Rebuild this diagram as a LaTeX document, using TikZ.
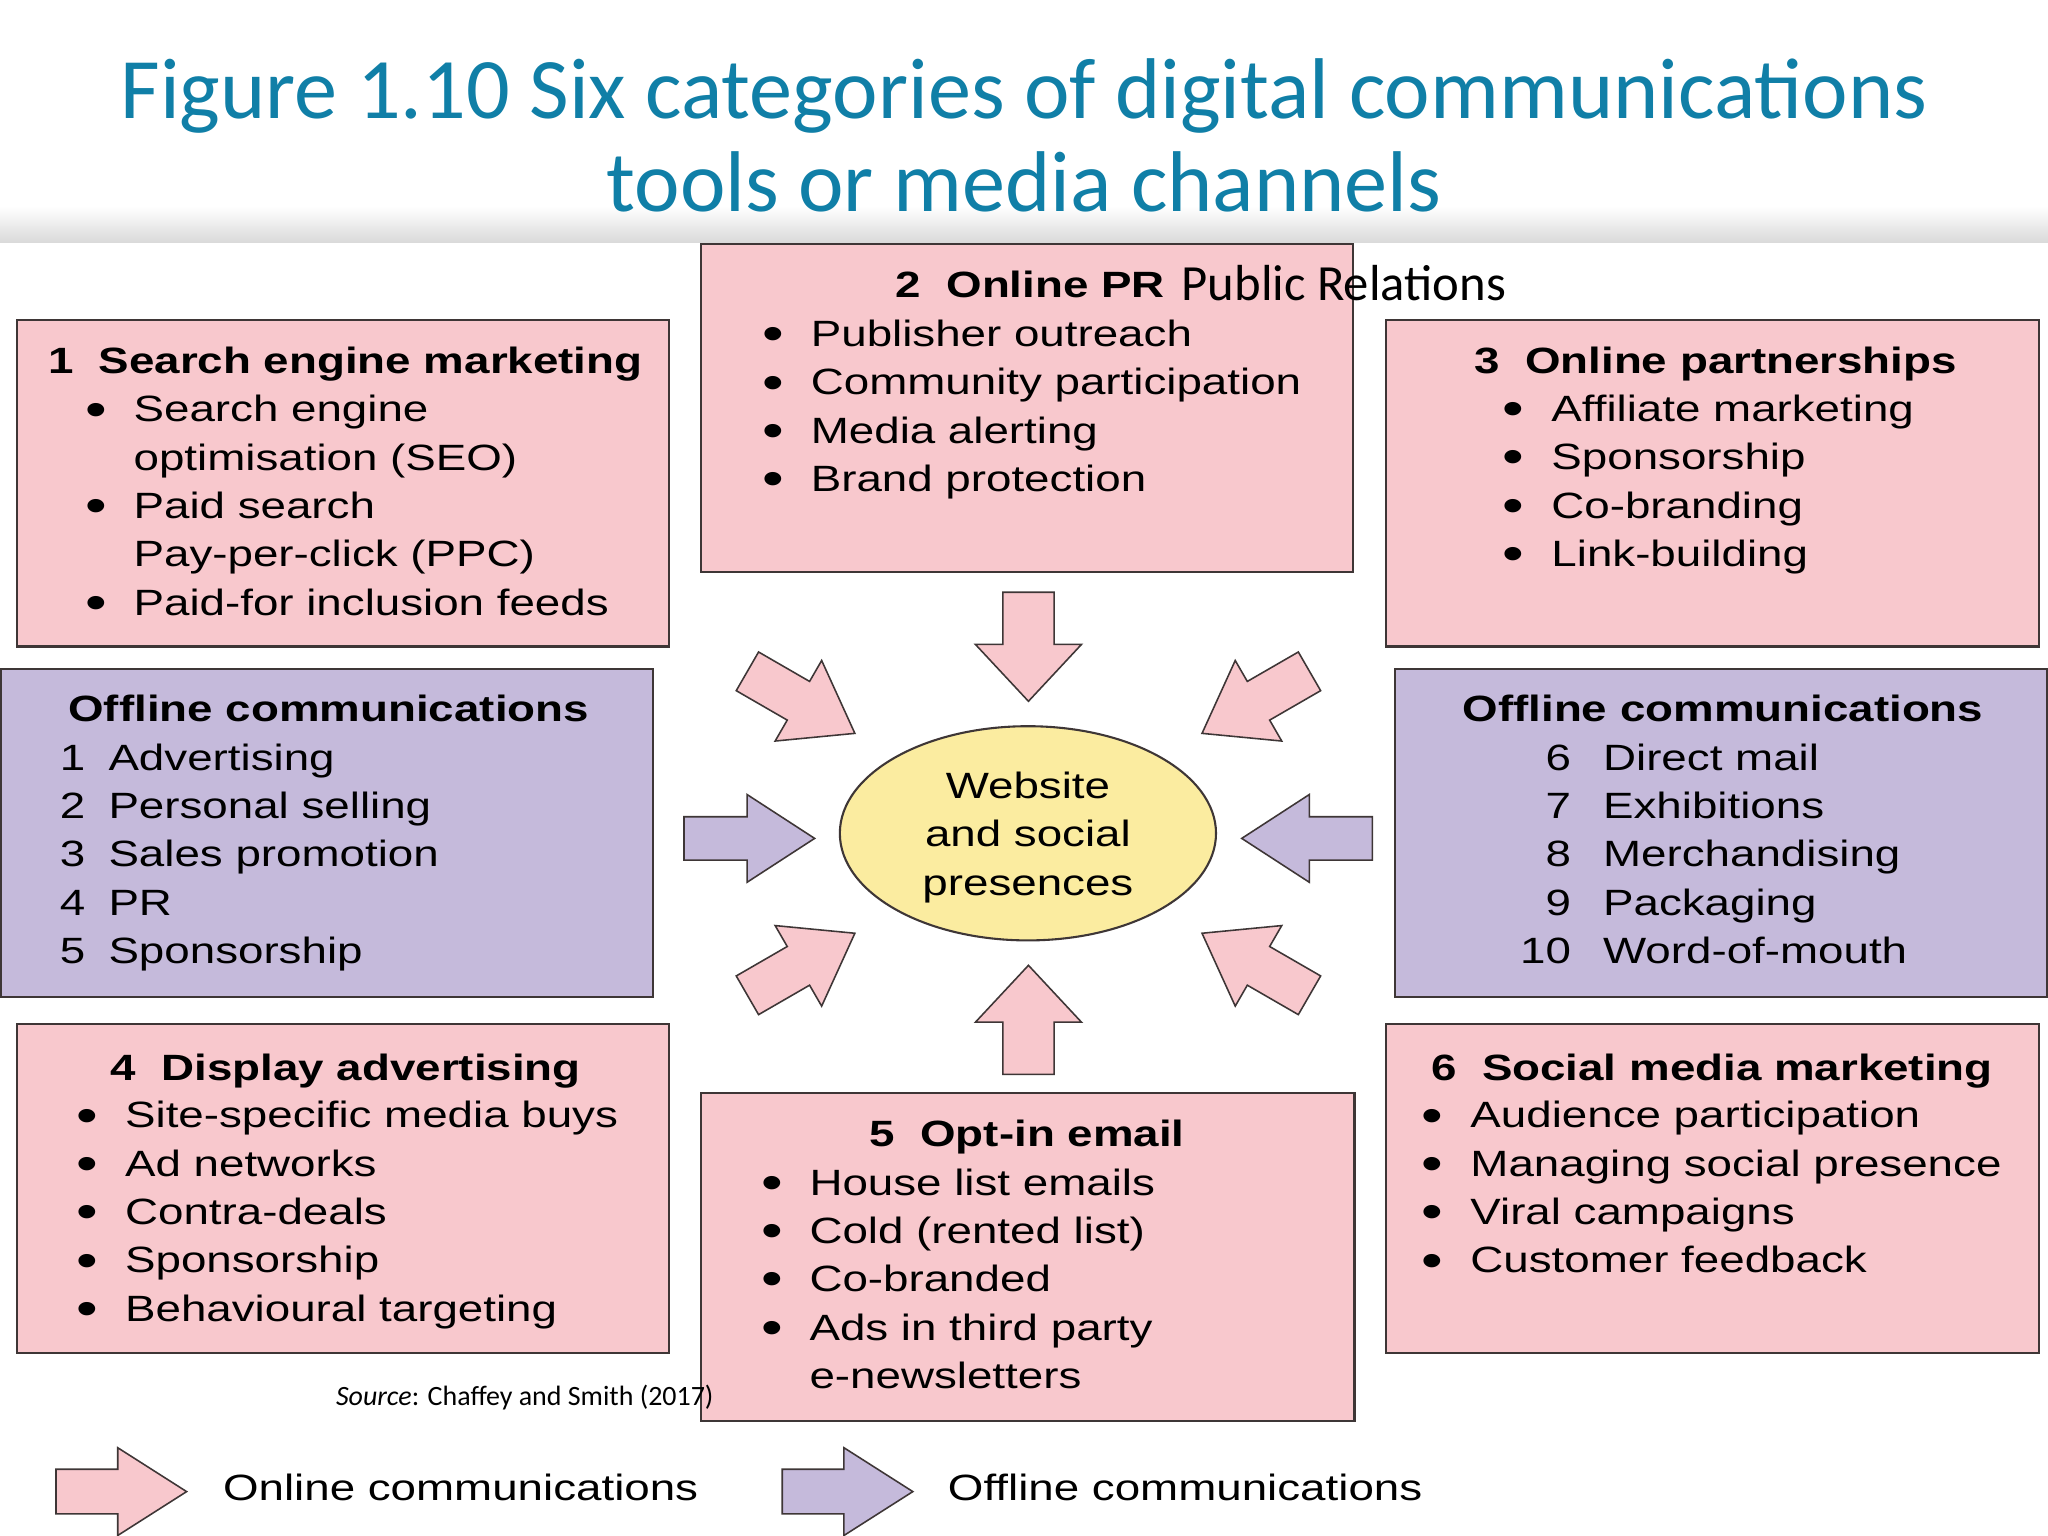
\documentclass[tikz,border=0pt]{standalone}
\usepackage{fontspec}
\setmainfont{Carlito}
\newfontfamily\diagfont[FakeStretch=1.25]{Liberation Sans}
\usetikzlibrary{shapes.geometric,shapes.arrows}

\definecolor{titleblue}{RGB}{16,127,167}
\definecolor{boxpink}{RGB}{248,200,205}
\definecolor{boxlilac}{RGB}{197,186,219}
\definecolor{hubyellow}{RGB}{251,236,160}
\definecolor{edge}{RGB}{62,54,54}

\newcommand{\bul}{\makebox[17.75pt][l]{\hspace*{-0.8pt}\raisebox{-1.6pt}{\scalebox{1.35}{\textbullet}}}}
\newcommand{\nob}{\hspace*{17.75pt}}
\newcommand{\nsp}{\hspace*{9.7pt}}
\newcommand{\lnum}[1]{\makebox[18.65pt][l]{#1}}
\newcommand{\rnum}[1]{\makebox[19.5pt][r]{#1}\hspace*{12.3pt}}

\tikzset{every picture/.style={line width=0.8pt}}
\tikzset{
  onbox/.style={draw=edge, fill=boxpink},
  offbox/.style={draw=edge, fill=boxlilac},
  txt/.style={anchor=base west, inner sep=0pt, font=\diagfont\fontsize{14}{18.5}\selectfont},
  hdr/.style={txt, font=\diagfont\bfseries\fontsize{14}{18.5}\selectfont},
  ttl/.style={anchor=base, inner sep=0pt, text=titleblue, font=\fontsize{33}{36}\selectfont},
  hub/.style={ellipse, draw=edge, fill=hubyellow, minimum width=144pt, minimum height=82pt,
    inner sep=0pt},
  hubtxt/.style={inner sep=0pt, align=center, font=\diagfont\fontsize{14}{18.5}\selectfont},
  blk/.style={single arrow, draw=edge, line width=0.6pt, anchor=tip, inner xsep=0pt},
  vert/.style={blk, fill=boxpink, inner ysep=9.5pt, single arrow head extend=10.5pt,
    single arrow tip angle=86, minimum height=41.75pt},
  horiz/.style={blk, fill=boxlilac, inner ysep=8pt, single arrow head extend=8.5pt,
    single arrow tip angle=66, minimum height=50pt},
  diag/.style={blk, fill=boxpink, inner ysep=8.25pt, single arrow head extend=9.25pt,
    single arrow tip angle=71, minimum height=47.5pt},
  legarrow/.style={blk, inner ysep=8.25pt, single arrow head extend=8.25pt,
    single arrow tip angle=65, minimum height=50pt}
}

\begin{document}
\begin{tikzpicture}[x=0.5pt,y=0.5pt,yscale=-1]
\useasboundingbox (0,0) rectangle (1568,1176);
\fill[white] (0,0) rectangle (1568,1176);

% title and shadow band
\shade[top color=white, bottom color=black!15, draw=none] (0,158) rectangle (1568,186);
\node[ttl] (title-a) at (784,90.6) {Figure 1.10 Six categories of digital communications};
\node[ttl] (title-b) at (784,162) {tools or media channels};

% boxes
\draw[onbox] (13,245) rectangle (512,495);
\draw[onbox] (537,187) rectangle (1036,438);
\draw[onbox] (1061,245) rectangle (1561,495);
\draw[offbox] (1,512) rectangle (500,763);
\draw[offbox] (1068,512) rectangle (1567,763);
\draw[onbox] (13,784) rectangle (512,1036);
\draw[onbox] (537,837) rectangle (1037,1088);
\draw[onbox] (1061,784) rectangle (1561,1036);

% 1 search engine marketing
\node[hdr] (sem) at (36,286) {1\nsp Search engine marketing};
\foreach \t [count=\i from 0] in {\bul Search engine, \nob optimisation (SEO), \bul Paid search,
    \nob Pay-per-click (PPC), \bul Paid-for inclusion feeds}
  \node[txt] (sem-\i) at (66,{323+37*\i}) {\t};

% 2 online PR
\node[hdr] (opr) at (685,228) {2\nsp Online PR};
\foreach \t [count=\i from 0] in {Publisher outreach, Community participation, Media alerting, Brand protection}
  \node[txt] (opr-\i) at (584.5,{265.4+37*\i}) {\bul\t};

% 3 online partnerships
\node[hdr] (opt) at (1128,286) {3\nsp Online partnerships};
\foreach \t [count=\i from 0] in {Affiliate marketing, Sponsorship, Co-branding, Link-building}
  \node[txt] (opt-\i) at (1151.5,{322.6+37*\i}) {\bul\t};

% offline communications, left
\node[hdr] (offl) at (51.5,552.6) {Offline communications};
\foreach \n/\t [count=\i from 0] in {1/Advertising, 2/Personal selling, 3/Sales promotion, 4/PR, 5/Sponsorship}
  \node[txt] (offl-\i) at (45,{589.6+37*\i}) {\lnum{\n}\t};

% offline communications, right
\node[hdr] (offr) at (1119,552.6) {Offline communications};
\foreach \n/\t [count=\i from 0] in {6/Direct mail, 7/Exhibitions, 8/Merchandising, 9/Packaging, 10/Word-of-mouth}
  \node[txt] (offr-\i) at (1163,{589.6+37*\i}) {\rnum{\n}\t};

% 4 display advertising
\node[hdr] (dsp) at (84,827) {4\nsp Display advertising};
\foreach \t [count=\i from 0] in {Site-specific media buys, Ad networks, Contra-deals, Sponsorship, Behavioural targeting}
  \node[txt] (dsp-\i) at (59.5,{863.6+37*\i}) {\bul\t};

% 5 opt-in email
\node[hdr] (eml) at (665,878) {5\nsp Opt-in email};
\foreach \t [count=\i from 0] in {\bul House list emails, \bul Cold (rented list), \bul Co-branded,
    \bul Ads in third party, \nob e-newsletters}
  \node[txt] (eml-\i) at (583.5,{915+37*\i}) {\t};

% 6 social media marketing
\node[hdr] (smm) at (1095,827) {6\nsp Social media marketing};
\foreach \t [count=\i from 0] in {Audience participation, Managing social presence, Viral campaigns, Customer feedback}
  \node[txt] (smm-\i) at (1089.5,{863.6+37*\i}) {\bul\t};

% hub and block arrows
\node[hub] (hub) at (787,638) {};
\node[hubtxt] (hub-t) at (787,641) {Website\\and social\\presences};
\node[vert, rotate=-90] (in-n) at (787.4,537.8) {};
\node[vert, rotate=90] (in-s) at (787.4,738.2) {};
\node[horiz] (in-w) at (624.8,641.9) {};
\node[horiz, rotate=180] (in-e) at (949.6,641.9) {};
\node[diag, rotate=-30] (in-nw) at (655.4,562) {};
\node[diag, rotate=-150] (in-ne) at (919.4,562) {};
\node[diag, rotate=30] (in-sw) at (655.4,714) {};
\node[diag, rotate=150] (in-se) at (919.4,714) {};

% legend
\node[legarrow, fill=boxpink] (leg-on) at (144,1142) {};
\node[txt] (leg-on-t) at (170,1149) {Online communications};
\node[legarrow, fill=boxlilac] (leg-off) at (700,1142) {};
\node[txt] (leg-off-t) at (725,1149) {Offline communications};

% slide notes
\node[anchor=base west, inner sep=0pt, font=\fontsize{19.4}{22}\selectfont] (pr-note) at (904,229.7) {Public Relations};
\node[anchor=base west, inner sep=0pt, font=\fontsize{10.7}{12}\selectfont] (source) at (256.5,1075.8) {\textit{Source}: Chaffey and Smith (2017)};

\end{tikzpicture}
\end{document}
